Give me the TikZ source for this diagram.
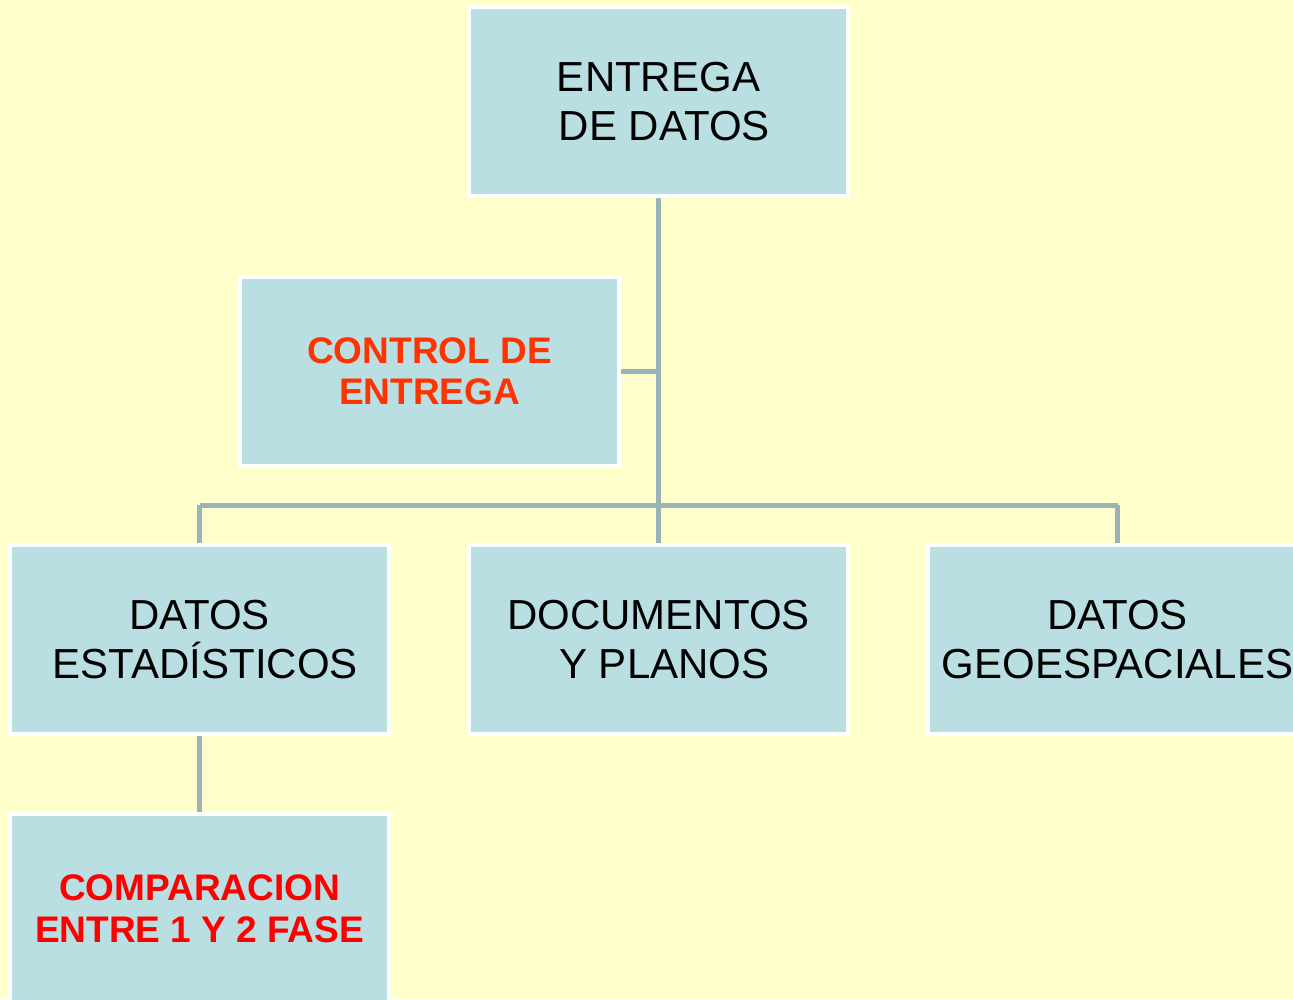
\documentclass[tikz,border=0pt]{standalone}
\usepackage{fontspec}
\setmainfont{Liberation Sans}
\definecolor{fondo}{HTML}{FFFFCC}
\definecolor{caja}{HTML}{B9DFE3}
\definecolor{linea}{HTML}{9AB3B8}
\definecolor{rojizo}{HTML}{FF3300}
\tikzset{
    caja/.style={draw=white, line width=4pt, fill=caja, outer sep=2pt,
        minimum width=379pt, minimum height=189pt, align=center,
        font=\fontsize{42}{49}\selectfont},
    nota/.style={font=\fontsize{37}{41}\selectfont\bfseries},
    enlace/.style={draw=linea, line width=5pt}
}
\newcommand{\sangria}{\hspace*{.28em}}
\begin{document}
\begin{tikzpicture}[x=1pt, y=-1pt]
    \fill[fondo] (0,0) rectangle (1293,999);
    \useasboundingbox (0,0) rectangle (1293,999);
    \node[caja] (entrega) at (658.5,101.5) {ENTREGA\\ \sangria DE DATOS};
    \node[caja, nota, text=rojizo] (control) at (429.5,371) {CONTROL DE\\ ENTREGA};
    \node[caja] (estad) at (199.5,639.5) {DATOS\\ \sangria ESTADÍSTICOS};
    \node[caja] (docs) at (658.5,639.5) {DOCUMENTOS\\ \sangria Y PLANOS};
    \node[caja] (geo) at (1117.5,639.5) {DATOS\\ GEOESPACIALES};
    \node[caja, nota, text=red, font=\fontsize{37}{42}\selectfont\bfseries] (comp) at (199.5,908.5) {COMPARACION\\ ENTRE 1 Y 2 FASE};
    \coordinate (cruce) at (658.5,505);
    \coordinate (rama) at (658.5,371);
    \draw[enlace] (entrega.south) -- (cruce);
    \draw[enlace] (control.east) -- (rama);
    \draw[enlace] (estad.north |- cruce) -- (geo.north |- cruce);
    \foreach \n in {estad, docs, geo} {
        \draw[enlace] (\n.north |- cruce) -- (\n.north);
    }
    \draw[enlace] (estad.south) -- (comp.north);
\end{tikzpicture}
\end{document}
